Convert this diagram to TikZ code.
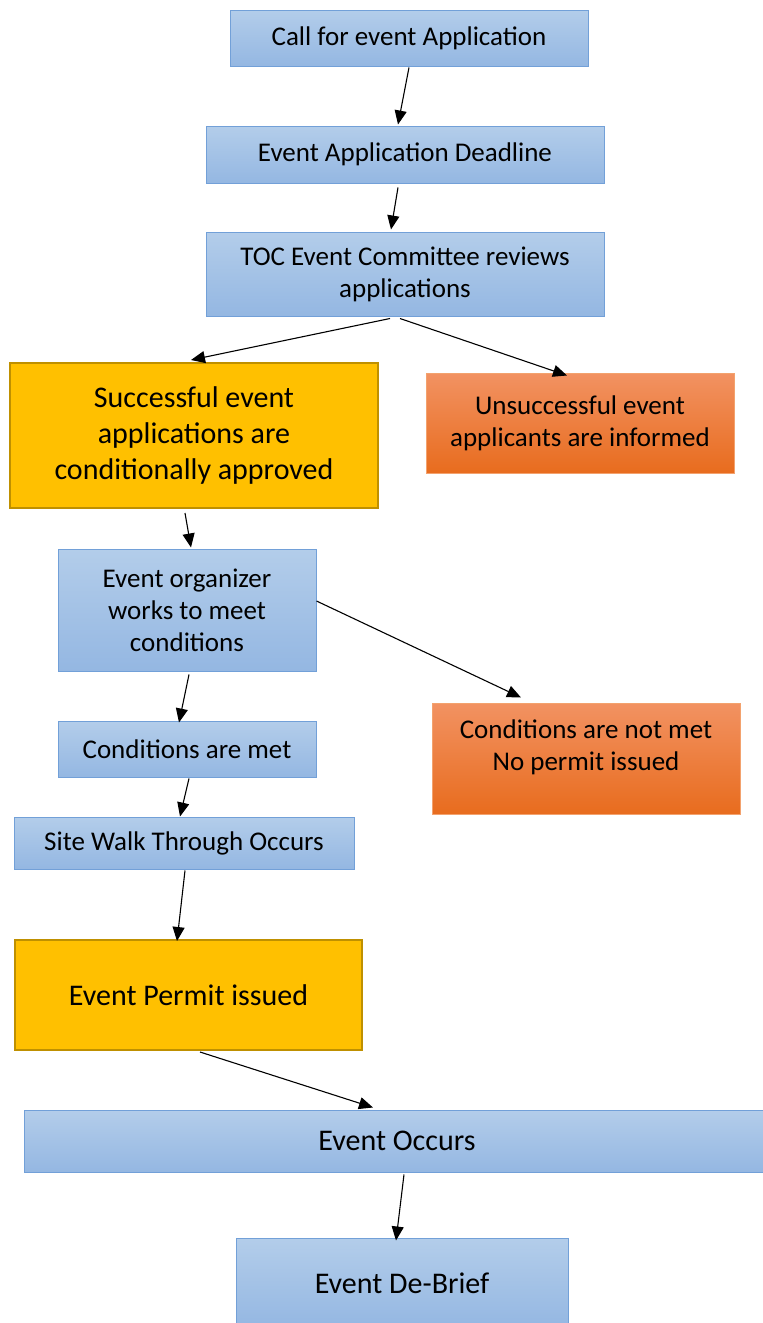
\documentclass[tikz,border=0pt]{standalone}
\usepackage{fontspec}
\setmainfont{Carlito}
\usetikzlibrary{arrows.meta,calc}
\definecolor{bluetop}{HTML}{B3CDEA}
\definecolor{bluebot}{HTML}{94B7E2}
\definecolor{bluebd}{HTML}{72A0D8}
\definecolor{orgtop}{HTML}{F29262}
\definecolor{orgbot}{HTML}{E86C1E}
\definecolor{orgbd}{HTML}{F3A26E}
\definecolor{gold}{HTML}{FFC000}
\definecolor{goldbd}{HTML}{BF9000}
\tikzset{
  base/.style={inner sep=0pt, align=center, font=\fontsize{27}{32}\selectfont},
  bluebox/.style={base, draw=bluebd, line width=1pt, top color=bluetop, bottom color=bluebot},
  orgbox/.style={base, draw=orgbd, line width=1pt, top color=orgtop, bottom color=orgbot},
  goldbox/.style={base, draw=goldbd, line width=2pt, fill=gold, font=\fontsize{30}{36}\selectfont},
  big/.style={font=\fontsize{30}{36}\selectfont},
  arr/.style={line width=1.1pt, -{Triangle[length=14pt,width=12pt]}}
}
\begin{document}
\begin{tikzpicture}[x=1pt,y=-1pt]
\useasboundingbox (0,0) rectangle (763,1323);
\node[bluebox, minimum width=358, minimum height=56] (n1) at (409,38) {Call for event Application};
\node[bluebox, minimum width=398, minimum height=57] (n2) at (405,154.5) {Event Application Deadline};
\node[bluebox, minimum width=398, minimum height=84] (n3) at (405,274) {TOC Event Committee reviews\\applications};
\node[goldbox, minimum width=368, minimum height=145] (n4) at (194,435.5) {Successful event\\applications are\\conditionally approved};
\node[orgbox, minimum width=308, minimum height=100] (n5) at (580,423) {Unsuccessful event\\applicants are informed};
\node[bluebox, minimum width=258, minimum height=122] (n6) at (187,610) {Event organizer\\works to meet\\conditions};
\node[bluebox, minimum width=258, minimum height=56] (n7) at (187,749) {Conditions are met};
\node[orgbox, minimum width=308, minimum height=111] (n8) at (586,758.5) {Conditions are not met\\No permit issued\\[-6pt]\mbox{}};
\node[bluebox, minimum width=340, minimum height=52] (n9) at (184,843) {Site Walk Through Occurs};
\node[goldbox, minimum width=347, minimum height=110] (n10) at (188.5,995) {Event Permit issued};
\node[bluebox, big, minimum width=746, minimum height=62] (n11) at (397,1141) {Event Occurs};
\node[bluebox, big, minimum width=332, minimum height=90] (n12) at (402,1283) {Event De-Brief};

\draw[arr] ($(n1.south)+(0,1)$) -- ($(n2.north)+(-7,-1)$);
\draw[arr] ($(n2.south)+(-7,4)$) -- ($(n3.north)+(-14,-2)$);
\draw[arr] ($(n3.south)+(-15,2)$) -- ($(n4.north)+(-3,-2)$);
\draw[arr] ($(n3.south)+(-5,2)$) -- ($(n5.north)+(-13,3)$);
\draw[arr] ($(n4.south)+(-9,4)$) -- ($(n6.north)+(4,-1)$);
\draw[arr] ($(n6.east)+(0,-9)$) -- ($(n8.north)+(-65,-5)$);
\draw[arr] ($(n6.south)+(2,3)$) -- ($(n7.north)+(-8,2)$);
\draw[arr] ($(n7.south)+(2,1)$) -- ($(n9.north)+(-4,0)$);
\draw[arr] ($(n9.south)+(1,1)$) -- ($(n10.north)+(-11.5,2)$);
\draw[arr] ($(n10.south)+(11.5,1)$) -- ($(n11.north)+(-24,-2)$);
\draw[arr] ($(n11.south)+(7,2)$) -- ($(n12.north)+(-6,3)$);
\end{tikzpicture}
\end{document}
